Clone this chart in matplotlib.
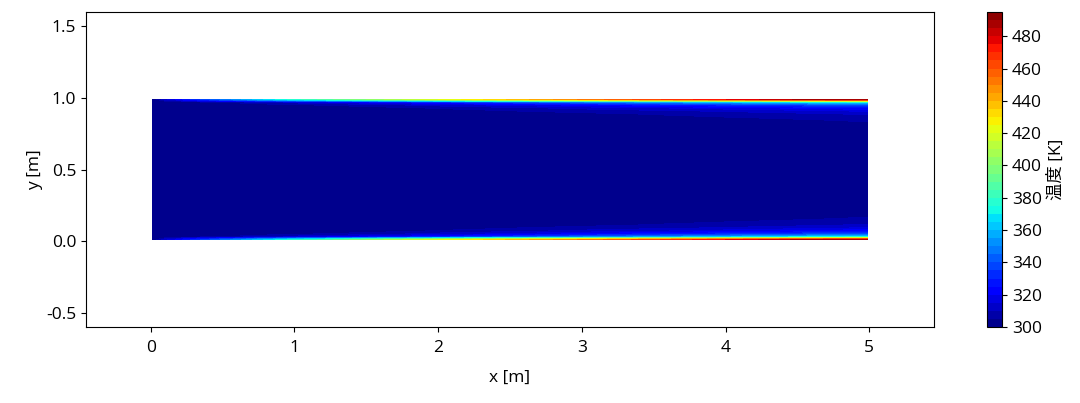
import numpy as np
import matplotlib
matplotlib.use("Agg")
import matplotlib.pyplot as plt

plt.rcParams['font.family'] = ['Open Sans', 'Noto Sans CJK JP', 'DejaVu Sans']
plt.rcParams['font.size'] = 12.5
plt.rcParams['axes.unicode_minus'] = False

# stations along the channel (cell centres, m)
x_stations = [0.01, 0.1, 0.25, 0.5, 0.75, 1.0, 1.5, 2.0, 2.5, 3.0, 3.5, 4.0, 4.5, 4.99]
# distance of cell centres from the wall (m)
wall_dist = [0.01, 0.03, 0.05, 0.07, 0.09, 0.11, 0.15, 0.2, 0.5]
# temperature [K] at each station (rows) vs. wall distance (columns)
temp_table = [
    [301, 300, 300, 300, 300, 300, 300, 300, 300],
    [313, 300.8, 300, 300, 300, 300, 300, 300, 300],
    [328, 302, 300.4, 300, 300, 300, 300, 300, 300],
    [346, 305, 301.2, 300.3, 300, 300, 300, 300, 300],
    [363, 308, 302.5, 300.8, 300.3, 300, 300, 300, 300],
    [378, 312, 304, 301.5, 300.6, 300.2, 300, 300, 300],
    [400, 319, 307, 303, 301.5, 300.6, 300.1, 300, 300],
    [420, 327, 312, 305.5, 303, 301.5, 300.5, 300, 300],
    [436, 335, 316, 308.5, 305, 302.5, 301, 300.2, 300],
    [451, 342, 321, 311.5, 307, 304, 301.8, 300.5, 300],
    [464, 349, 326, 314.5, 309, 305.5, 302.6, 301, 300],
    [475, 356, 330, 317.5, 311, 307, 303.6, 301.5, 300],
    [486, 362, 334, 321, 313.5, 309, 304.8, 302.2, 300],
    [493, 368, 338, 324, 316, 311, 306, 303, 300],
]
t_min, t_max, t_step = 300, 495, 5
channel_height = 1.0

xs = np.array(x_stations)
d = np.array(wall_dist)
T_half = np.array(temp_table)            # (nx, nd)
# full channel: bottom wall half + mirrored top wall half
ys = np.concatenate([d, channel_height - d[::-1][1:]])
T_full = np.concatenate([T_half, T_half[:, ::-1][:, 1:]], axis=1)  # (nx, ny)

fig = plt.figure(figsize=(10.8, 4.03), dpi=100)
ax = fig.add_axes([86/1080, 1-327/403, 848/1080, 315/403])
cax = fig.add_axes([987/1080, 1-327/403, 15/1080, 315/403])

levels = np.arange(t_min, t_max + 0.1, t_step)
X, Y = np.meshgrid(xs, ys, indexing='ij')
cf = ax.contourf(X, Y, T_full, levels=levels, cmap='jet')

ax.set_xlim(-0.45, 5.45)
ax.set_ylim(-0.6, 1.6)
ax.set_xticks([0, 1, 2, 3, 4, 5])
ax.set_yticks([-0.5, 0.0, 0.5, 1.0, 1.5])
ax.tick_params(axis='x', pad=6)
ax.set_xlabel('x [m]', labelpad=10)
ax.set_ylabel('y [m]', labelpad=2)

cb = fig.colorbar(cf, cax=cax)
cb.set_ticks(np.arange(300, 481, 20))
cb.set_label('温度 [K]')

fig.savefig('out.png', dpi=100)
